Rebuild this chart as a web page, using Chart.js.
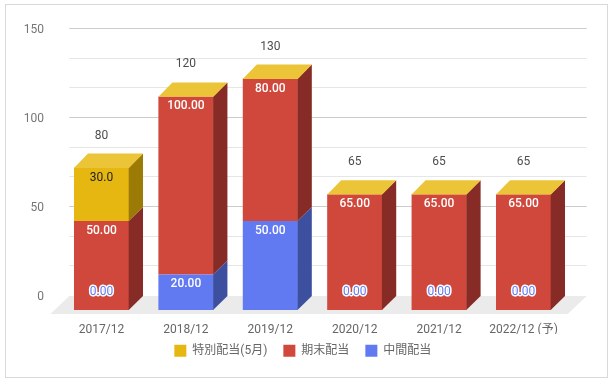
<!DOCTYPE html>
<html><head><meta charset="utf-8">
<script src="https://cdn.jsdelivr.net/npm/chart.js@4"></script>
<style>
html,body{margin:0;padding:0;background:#fff;}
#wrap{position:relative;width:614px;height:382px;}
#frame{position:absolute;left:5px;top:4px;width:603px;height:374px;box-sizing:border-box;border:1px solid #d9d9d9;}
canvas{position:absolute;left:0;top:0;}
</style></head><body>
<div id="wrap"><div id="frame"></div><canvas id="c" width="614" height="382"></canvas></div>
<script>
// ---- data ----
const categories = ['2017/12', '2018/12', '2019/12', '2020/12', '2021/12', '2022/12 (予)'];
const interimDividend = [0, 20, 50, 0, 0, 0];        // 中間配当
const yearEndDividend = [50, 100, 80, 65, 65, 65];   // 期末配当
const specialDividend = [30, 0, 0, 0, 0, 0];         // 特別配当(5月)
const seriesNames = ['中間配当', '期末配当', '特別配当(5月)'];
const yTicks = [0, 50, 100, 150];

// ---- style ----
const FONT = "Roboto, 'Noto Sans CJK JP', sans-serif";
const DEPTH = 14;
const frontColors = ['#617af2', '#d0473b', '#e7b711'];
const sideColors = ['#3d50a0', '#872b27', '#9b7a05'];
const topColor = '#ebc537';
const labelDecimals = [2, 2, 1];

Chart.defaults.font.family = FONT;
Chart.defaults.font.size = 12;

const totals = categories.map((_, j) => interimDividend[j] + yearEndDividend[j] + specialDividend[j]);

const bar3d = {
  id: 'bar3d',
  afterLayout(chart) {
    chart.legend.left += 20;
    chart.legend.right += 20;
    chart.legend.top -= 5.3;
    chart.legend.bottom -= 5.3;
  },
  beforeDatasetsDraw(chart) {
    const {ctx, chartArea: a, scales: {y}} = chart;
    const L = a.left, R = a.right, B = a.bottom;
    ctx.save();
    // floor
    ctx.fillStyle = '#ebebeb';
    ctx.beginPath();
    ctx.moveTo(L + 10, B - DEPTH);
    ctx.lineTo(R + 21, B - DEPTH);
    ctx.lineTo(R + 2, B + 4);
    ctx.lineTo(L - 9, B + 4);
    ctx.closePath();
    ctx.fill();
    // back-plane gridlines
    const step = (yTicks[1] - yTicks[0]) / 3;
    const maxV = yTicks[yTicks.length - 1];
    ctx.lineWidth = 1;
    for (let v = maxV; v >= 0; v -= step) {
      const vv = Math.round(v * 1000) / 1000;
      const py = Math.round(y.getPixelForValue(vv) - DEPTH) - 0.5;
      const major = Math.abs(vv / 50 - Math.round(vv / 50)) < 1e-6;
      ctx.strokeStyle = vv === 0 ? '#333333' : (major ? '#cccccc' : '#e6e6e6');
      ctx.beginPath();
      ctx.moveTo(L + 10, py);
      ctx.lineTo(R + 21, py);
      ctx.stroke();
    }
    ctx.restore();
  },
  afterDatasetsDraw(chart) {
    const ctx = chart.ctx;
    const n = chart.data.datasets.length;
    ctx.save();
    const geo = [];
    categories.forEach((_, j) => {
      let topY = null, cx = 0, left = 0, right = 0;
      for (let i = 0; i < n; i++) {
        const el = chart.getDatasetMeta(i).data[j];
        const p = el.getProps(['x', 'y', 'base', 'width'], true);
        left = p.x - p.width / 2; right = p.x + p.width / 2; cx = p.x;
        const yt = Math.min(p.y, p.base), yb = Math.max(p.y, p.base);
        if (yb - yt > 0.01) {
          ctx.fillStyle = sideColors[i];
          ctx.beginPath();
          ctx.moveTo(right - 0.3, yb);
          ctx.lineTo(right - 0.3, yt);
          ctx.lineTo(right + DEPTH, yt - DEPTH);
          ctx.lineTo(right + DEPTH, yb - DEPTH);
          ctx.closePath();
          ctx.fill();
        }
        topY = topY === null ? yt : Math.min(topY, yt);
      }
      ctx.fillStyle = topColor;
      ctx.beginPath();
      ctx.moveTo(left, topY + 0.3);
      ctx.lineTo(left + DEPTH, topY - DEPTH);
      ctx.lineTo(right + DEPTH, topY - DEPTH);
      ctx.lineTo(right, topY + 0.3);
      ctx.closePath();
      ctx.fill();
      geo.push({cx, topY});
    });
    // segment labels
    ctx.textAlign = 'center';
    ctx.textBaseline = 'middle';
    for (let i = 0; i < n; i++) {
      const meta = chart.getDatasetMeta(i);
      const data = chart.data.datasets[i].data;
      data.forEach((v, j) => {
        const p = meta.data[j].getProps(['x', 'y', 'base'], true);
        const txt = v.toFixed(labelDecimals[i]);
        if (v > 0) {
          if (i === 2) {
            ctx.font = '12px ' + FONT;
            ctx.fillStyle = '#222222';
          } else {
            ctx.font = '500 12px ' + FONT;
            ctx.fillStyle = '#ffffff';
          }
          ctx.fillText(txt, p.x, p.y + 10);
        } else if (i === 0) {
          ctx.font = '12px ' + FONT;
          ctx.lineWidth = 3;
          ctx.lineJoin = 'round';
          ctx.strokeStyle = '#ffffff';
          ctx.strokeText(txt, p.x, p.base - 18);
          ctx.fillStyle = frontColors[0];
          ctx.fillText(txt, p.x, p.base - 18);
        }
      });
    }
    // totals
    ctx.font = '12px ' + FONT;
    ctx.fillStyle = '#4d4d4d';
    totals.forEach((t, j) => {
      ctx.fillText(String(t), geo[j].cx, geo[j].topY - DEPTH - 18);
    });
    ctx.restore();
  }
};

new Chart(document.getElementById('c'), {
  type: 'bar',
  data: {
    labels: categories,
    datasets: [
      {label: seriesNames[0], data: interimDividend, backgroundColor: frontColors[0], borderWidth: 0},
      {label: seriesNames[1], data: yearEndDividend, backgroundColor: frontColors[1], borderWidth: 0},
      {label: seriesNames[2], data: specialDividend, backgroundColor: frontColors[2], borderWidth: 0}
    ]
  },
  options: {
    responsive: false,
    animation: false,
    events: [],
    layout: {padding: {left: 0, right: 48.3, top: 43, bottom: 10}},
    datasets: {bar: {categoryPercentage: 1, barPercentage: 0.652}},
    scales: {
      x: {
        stacked: true,
        grid: {display: false, drawTicks: false},
        border: {display: false},
        ticks: {color: '#666666', padding: 12.5, font: {size: 12}},
        afterFit(s) { s.height = 24; }
      },
      y: {
        stacked: true,
        min: yTicks[0],
        max: yTicks[yTicks.length - 1],
        afterBuildTicks(s) { s.ticks = yTicks.map(v => ({value: v})); },
        grid: {display: false, drawTicks: false},
        border: {display: false},
        ticks: {color: '#757575', padding: 15.3, labelOffset: -DEPTH + 1, font: {size: 12}},
        afterFit(s) { s.width = 59.3; }
      }
    },
    plugins: {
      legend: {
        position: 'bottom',
        reverse: true,
        labels: {boxWidth: 12, boxHeight: 12, padding: 16, color: '#666666', font: {size: 12}}
      },
      tooltip: {enabled: false}
    }
  },
  plugins: [bar3d]
});
</script>
</body></html>
